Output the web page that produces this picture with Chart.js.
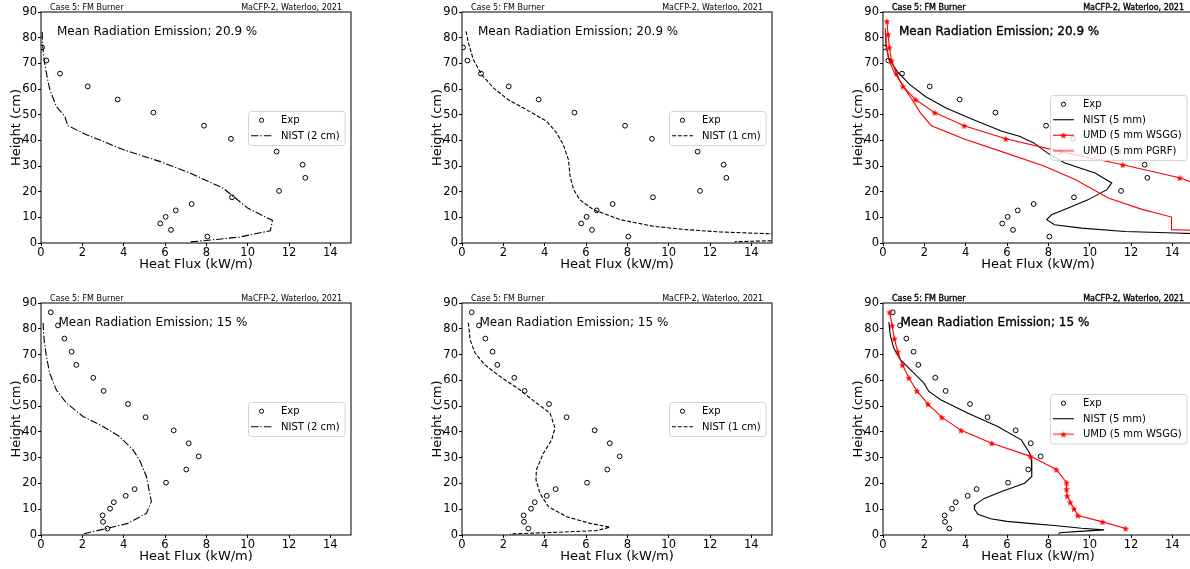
<!DOCTYPE html>
<html><head><meta charset="utf-8">
<script src="https://cdn.jsdelivr.net/npm/chart.js@4.4.1/dist/chart.umd.min.js"></script>
<style>
html,body{margin:0;padding:0;background:#fff;overflow:hidden;width:1190px;height:569px;}
#wrap{position:relative;width:1190px;height:569px;overflow:hidden;background:#fff;}
#wrap canvas{position:absolute;}
</style></head><body><div id="wrap"></div>
<script>
// ---------------- tick labels / texts ----------------
const xTicks = [0, 2, 4, 6, 8, 10, 12, 14];
const yTicks = [0, 10, 20, 30, 40, 50, 60, 70, 80, 90];
const xTitle = 'Heat Flux (kW/m)';
const yTitle = 'Height (cm)';
const headerLeft = 'Case 5: FM Burner';
const headerRight = 'MaCFP-2, Waterloo, 2021';
const noteRow1 = 'Mean Radiation Emission; 20.9 %';
const noteRow2 = 'Mean Radiation Emission; 15 %';

// ---------------- row 1 (20.9 %) ----------------
const expH_R1 = [76.2, 71.1, 66.0, 61.0, 55.9, 50.8, 45.7, 40.6, 35.6, 30.5, 25.4, 20.3, 17.8, 15.2, 12.7, 10.2, 7.6, 5.1, 2.5];
const expQ_R1 = [0.05, 0.26, 0.92, 2.26, 3.71, 5.44, 7.89, 9.19, 11.40, 12.66, 12.79, 11.52, 9.24, 7.29, 6.52, 6.03, 5.77, 6.29, 8.05];

const nist2cmH_R1 = [82.2, 78.0, 71.4, 66.2, 60.0, 53.2, 49.4, 45.7, 42.2, 36.4, 31.8, 27.3, 21.4, 18.2, 13.6, 10.6, 8.8, 4.8, 2.3, 1.0, 0.4];
const nist2cmQ_R1 = [0.06, 0.07, 0.15, 0.26, 0.42, 0.74, 1.15, 1.30, 2.20, 3.97, 5.74, 7.20, 8.80, 9.30, 10.00, 10.74, 11.20, 11.10, 9.60, 8.00, 7.20];

const nist1cmH_R1 = [82.5, 78.0, 71.4, 65.6, 60.4, 55.8, 51.9, 47.4, 42.9, 38.3, 32.5, 26.0, 20.8, 16.9, 13.0, 9.1, 6.5, 5.2, 4.3, 3.6, 3.0, 1.0, 0.5];
const nist1cmQ_R1 = [0.19, 0.31, 0.55, 0.95, 1.52, 2.24, 3.13, 4.10, 4.58, 4.90, 5.15, 5.23, 5.40, 5.70, 6.35, 7.65, 9.26, 10.87, 12.50, 14.90, 16.50, 15.50, 13.20];

const nist5mmH_R1 = [82.5, 76.6, 72.0, 66.9, 61.7, 57.1, 52.6, 48.1, 43.5, 41.6, 39.0, 35.1, 31.2, 27.3, 23.4, 20.8, 16.9, 13.6, 11.0, 9.1, 7.1, 5.8, 4.5, 3.9, 3.55];
const nist5mmQ_R1 = [0.11, 0.16, 0.28, 0.68, 1.30, 2.05, 3.05, 4.35, 5.75, 6.60, 7.30, 7.95, 8.80, 10.26, 11.07, 10.83, 9.94, 8.96, 8.15, 7.92, 8.30, 9.60, 11.70, 14.15, 15.30];

const umdWsggH_R1 = [86.4, 81.3, 76.2, 71.1, 66.0, 61.0, 55.9, 50.8, 45.7, 40.6, 35.6, 30.5, 25.4, 20.3];
const umdWsggQ_R1 = [0.19, 0.24, 0.31, 0.41, 0.65, 0.97, 1.57, 2.50, 3.93, 5.94, 8.60, 11.60, 14.35, 16.10];

const umdPgrfH_R1 = [83.8, 76.6, 71.4, 66.9, 61.7, 55.8, 50.6, 45.7, 40.5, 35.7, 29.9, 24.7, 17.5, 13.2, 10.1, 5.2, 4.9];
const umdPgrfQ_R1 = [0.11, 0.16, 0.28, 0.52, 0.93, 1.41, 1.82, 2.34, 3.93, 5.71, 7.82, 9.30, 10.90, 12.50, 13.96, 13.96, 15.20];

// ---------------- row 2 (15 %) ----------------
const expH_R2 = [86.4, 81.3, 76.2, 71.1, 66.0, 61.0, 55.9, 50.8, 45.7, 40.6, 35.6, 30.5, 25.4, 20.3, 17.8, 15.2, 12.7, 10.2, 7.6, 5.1, 2.5];
const expQ_R2 = [0.47, 0.82, 1.13, 1.48, 1.71, 2.53, 3.03, 4.21, 5.06, 6.42, 7.15, 7.63, 7.03, 6.05, 4.53, 4.10, 3.52, 3.34, 2.98, 3.00, 3.21];

const nist2cmH_R2 = [82.3, 75.8, 69.3, 62.8, 56.3, 51.2, 46.0, 42.1, 38.2, 33.0, 29.1, 22.7, 13.0, 8.4, 4.5, 2.8, 0.4];
const nist2cmQ_R2 = [0.10, 0.15, 0.26, 0.42, 0.74, 1.23, 2.03, 3.00, 3.80, 4.45, 4.77, 5.10, 5.34, 5.10, 4.20, 3.32, 2.03];

const nist1cmH_R2 = [82.3, 75.8, 70.6, 66.0, 61.5, 56.3, 51.2, 47.3, 41.5, 36.9, 31.7, 25.3, 21.4, 16.2, 11.0, 7.1, 4.5, 3.0, 1.7, 1.0, 0.4];
const nist1cmQ_R2 = [0.31, 0.39, 0.63, 1.11, 1.84, 2.80, 3.60, 4.26, 4.50, 4.34, 3.94, 3.60, 3.58, 3.77, 4.18, 5.06, 6.20, 7.16, 6.50, 4.42, 2.32];

const nist5mmH_R2 = [82.6, 77.1, 72.5, 68.0, 63.5, 58.9, 55.7, 52.5, 47.3, 42.1, 36.9, 31.7, 29.1, 22.7, 20.1, 16.8, 14.2, 11.7, 10.1, 8.0, 6.3, 5.3, 4.4, 3.7, 2.6, 2.0, 1.4, 0.9, 0.3];
const nist5mmQ_R2 = [0.28, 0.36, 0.52, 0.84, 1.41, 1.98, 2.22, 2.79, 4.09, 5.55, 6.69, 7.10, 7.18, 7.20, 6.85, 5.71, 4.90, 4.45, 4.42, 4.60, 5.20, 6.00, 7.20, 8.30, 9.60, 10.70, 9.50, 8.55, 8.50];

const umdWsggH_R2 = [86.4, 81.3, 76.2, 71.1, 66.0, 61.0, 55.9, 50.8, 45.7, 40.6, 35.6, 30.5, 25.4, 20.3, 17.8, 15.2, 12.7, 10.2, 7.6, 5.1, 2.5];
const umdWsggQ_R2 = [0.32, 0.44, 0.55, 0.71, 0.94, 1.25, 1.64, 2.18, 2.84, 3.78, 5.26, 7.14, 8.39, 8.88, 8.88, 8.91, 9.06, 9.24, 9.43, 10.62, 11.74];

// ---------------- helpers ----------------
const FONT = '"DejaVu Sans", "Liberation Sans", sans-serif';
const pts = (q, h) => q.map((v, i) => ({x: v, y: h[i]}));

function makeStar(color, r) {
  const s = Math.ceil(r * 2 + 2);
  const c = document.createElement('canvas');
  c.width = s; c.height = s;
  const g = c.getContext('2d');
  g.translate(s / 2, s / 2 + 0.4);
  g.beginPath();
  for (let i = 0; i < 10; i++) {
    const a = -Math.PI / 2 + i * Math.PI / 5;
    const rr = i % 2 ? r * 0.42 : r;
    g.lineTo(rr * Math.cos(a), rr * Math.sin(a));
  }
  g.closePath();
  g.fillStyle = color; g.fill();
  return c;
}
const redStar = makeStar('#ff0000', 3.6);

function expSet(q, h) {
  return {label: 'Exp', data: pts(q, h), showLine: false, pointStyle: 'circle', pointRadius: 2.4,
    pointBorderWidth: 1, pointBorderColor: '#000', pointBackgroundColor: 'rgba(0,0,0,0)', borderColor: '#000'};
}
function lineSet(label, q, h, style) {
  return Object.assign({label, data: pts(q, h), showLine: true, tension: 0, pointRadius: 0,
    borderWidth: 1.1, borderColor: '#000', borderDash: [], fill: false}, style || {});
}
const dashDot = {borderDash: [7.5, 2, 1.3, 2]};
const dashed = {borderDash: [4, 1.8]};
const wsgg = {borderColor: '#ff0000', pointStyle: redStar, pointRadius: 3.6, pointHoverRadius: 3.6};
const pgrf = {borderColor: '#ff0000', legendColor: 'rgba(255,0,0,0.45)', legendWidth: 2.2};

// ---------------- layout ----------------
const colL = [41, 462, 883];
const rowT = [12, 303];
const rowHt = [231, 232];
const PW = 310;

const panels = [
  {col: 0, row: 0, note: noteRow1, sets: () => [expSet(expQ_R1, expH_R1), lineSet('NIST (2 cm)', nist2cmQ_R1, nist2cmH_R1, dashDot)]},
  {col: 1, row: 0, note: noteRow1, sets: () => [expSet(expQ_R1, expH_R1), lineSet('NIST (1 cm)', nist1cmQ_R1, nist1cmH_R1, dashed)]},
  {col: 2, row: 0, note: noteRow1, bold: true, sets: () => [expSet(expQ_R1, expH_R1),
     lineSet('NIST (5 mm)', nist5mmQ_R1, nist5mmH_R1),
     lineSet('UMD (5 mm WSGG)', umdWsggQ_R1, umdWsggH_R1, wsgg),
     lineSet('UMD (5 mm PGRF)', umdPgrfQ_R1, umdPgrfH_R1, pgrf)]},
  {col: 0, row: 1, note: noteRow2, sets: () => [expSet(expQ_R2, expH_R2), lineSet('NIST (2 cm)', nist2cmQ_R2, nist2cmH_R2, dashDot)]},
  {col: 1, row: 1, note: noteRow2, sets: () => [expSet(expQ_R2, expH_R2), lineSet('NIST (1 cm)', nist1cmQ_R2, nist1cmH_R2, dashed)]},
  {col: 2, row: 1, note: noteRow2, bold: true, sets: () => [expSet(expQ_R2, expH_R2),
     lineSet('NIST (5 mm)', nist5mmQ_R2, nist5mmH_R2),
     lineSet('UMD (5 mm WSGG)', umdWsggQ_R2, umdWsggH_R2, Object.assign({}, wsgg, {legendColor: 'rgba(255,0,0,0.5)', legendWidth: 2}))]}
];

// ---------------- matplotlib-like decorations ----------------
function txt(ctx, s, x, y, bold) {
  ctx.fillText(s, x, y);
  if (bold) { ctx.lineWidth = 0.35; ctx.strokeStyle = ctx.fillStyle; ctx.strokeText(s, x, y); }
}
const mplPlugin = {
  id: 'mpl',
  afterDraw(chart, args, o) {
    const ctx = chart.ctx, ca = chart.chartArea;
    ctx.save();
    // spines
    ctx.strokeStyle = '#000'; ctx.lineWidth = 1; ctx.setLineDash([]);
    ctx.strokeRect(ca.left, ca.top, ca.right - ca.left, ca.bottom - ca.top);
    // header texts
    ctx.fillStyle = '#000';
    ctx.font = `8px ${FONT}`;
    ctx.textBaseline = 'alphabetic';
    ctx.textAlign = 'left';
    txt(ctx, headerLeft, ca.left + 9, ca.top - 2.5, o.bold);
    ctx.textAlign = 'right';
    txt(ctx, headerRight, ca.right - 9, ca.top - 2.5, o.bold);
    // note
    ctx.font = `12px ${FONT}`;
    ctx.textAlign = 'left'; ctx.textBaseline = 'middle';
    txt(ctx, o.note, ca.left + o.noteDx, ca.top + o.noteDy, o.bold);
    // legend
    const ds = chart.data.datasets;
    ctx.font = `10px ${FONT}`;
    const tw = Math.max(...ds.map(d => ctx.measureText(d.label).width));
    const rowH = 15.5, padY = 1.5;
    const w = 33 + tw + 5, h = ds.length * rowH + 2 * padY;
    const x0 = Math.round(ca.right - 6 - w), y0 = Math.round((ca.top + ca.bottom) / 2 - h / 2);
    ctx.beginPath();
    ctx.roundRect(x0 + 0.5, y0 + 0.5, w, h, 3);
    ctx.fillStyle = 'rgba(255,255,255,0.8)'; ctx.fill();
    ctx.strokeStyle = '#d4d4d4'; ctx.lineWidth = 1; ctx.stroke();
    ds.forEach((d, i) => {
      const cy = y0 + padY + rowH * (i + 0.5);
      const sx0 = x0 + 3, sx1 = x0 + 24, cx = (sx0 + sx1) / 2;
      if (d.showLine) {
        ctx.save(); ctx.beginPath(); ctx.setLineDash(d.borderDash || []);
        ctx.strokeStyle = d.legendColor || d.borderColor; ctx.lineWidth = d.legendWidth || d.borderWidth;
        ctx.moveTo(sx0, cy); ctx.lineTo(sx1, cy); ctx.stroke(); ctx.restore();
      }
      if (d.pointRadius > 0) {
        if (d.pointStyle instanceof HTMLCanvasElement) {
          ctx.drawImage(d.pointStyle, cx - d.pointStyle.width / 2, cy - d.pointStyle.height / 2);
        } else {
          ctx.beginPath(); ctx.setLineDash([]); ctx.arc(cx, cy, 2.1, 0, Math.PI * 2);
          ctx.strokeStyle = '#000'; ctx.lineWidth = 1; ctx.stroke();
        }
      }
      ctx.fillStyle = '#000'; ctx.textAlign = 'left'; ctx.textBaseline = 'middle';
      ctx.fillText(d.label, x0 + 33, cy + 0.5);
    });
    ctx.restore();
  }
};

// ---------------- build charts ----------------
const wrap = document.getElementById('wrap');
panels.forEach(p => {
  const L = colL[p.col], T = rowT[p.row], H = rowHt[p.row];
  const cw = 41 + PW + 8, ch = 12 + H + 35;
  const c = document.createElement('canvas');
  c.width = cw; c.height = ch;
  c.style.left = (L - 41) + 'px'; c.style.top = (T - 12) + 'px';
  c.style.width = cw + 'px'; c.style.height = ch + 'px';
  wrap.appendChild(c);
  const sets = p.sets();
  sets.forEach((d, i) => { d.order = sets.length - i; });
  new Chart(c, {
    type: 'scatter',
    data: {datasets: sets},
    plugins: [mplPlugin],
    options: {
      responsive: false, animation: false, devicePixelRatio: 1,
      layout: {padding: {left: 0, top: 12, right: 8, bottom: 0}},
      events: [],
      plugins: {
        legend: {display: false}, tooltip: {enabled: false},
        mpl: {note: p.note, bold: !!p.bold, noteDx: p.row === 0 ? 16 : 17.5, noteDy: p.row === 0 ? 19.5 : 20}
      },
      scales: {
        x: {
          type: 'linear', min: 0, max: 15,
          afterBuildTicks: s => { s.ticks = xTicks.map(v => ({value: v})); },
          afterFit: s => { s.height = 35; },
          grid: {display: true, drawOnChartArea: false, drawTicks: true, tickLength: 3, color: '#000', lineWidth: 1},
          border: {display: false},
          ticks: {padding: 0, color: '#000', font: {family: FONT, size: 11.5}, maxRotation: 0, autoSkip: false},
          title: {display: true, text: xTitle, color: '#000', font: {family: FONT, size: 13}, padding: {top: 0, bottom: 5.5}}
        },
        y: {
          type: 'linear', min: 0, max: 90,
          afterBuildTicks: s => { s.ticks = yTicks.map(v => ({value: v})); },
          afterFit: s => { s.width = 41; },
          grid: {display: true, drawOnChartArea: false, drawTicks: true, tickLength: 3, color: '#000', lineWidth: 1},
          border: {display: false},
          ticks: {padding: 1, color: '#000', font: {family: FONT, size: 11.5}, autoSkip: false},
          title: {display: true, text: yTitle, color: '#000', font: {family: FONT, size: 13}, padding: {top: 9, bottom: 0}}
        }
      }
    }
  });
});
</script>
</body></html>
